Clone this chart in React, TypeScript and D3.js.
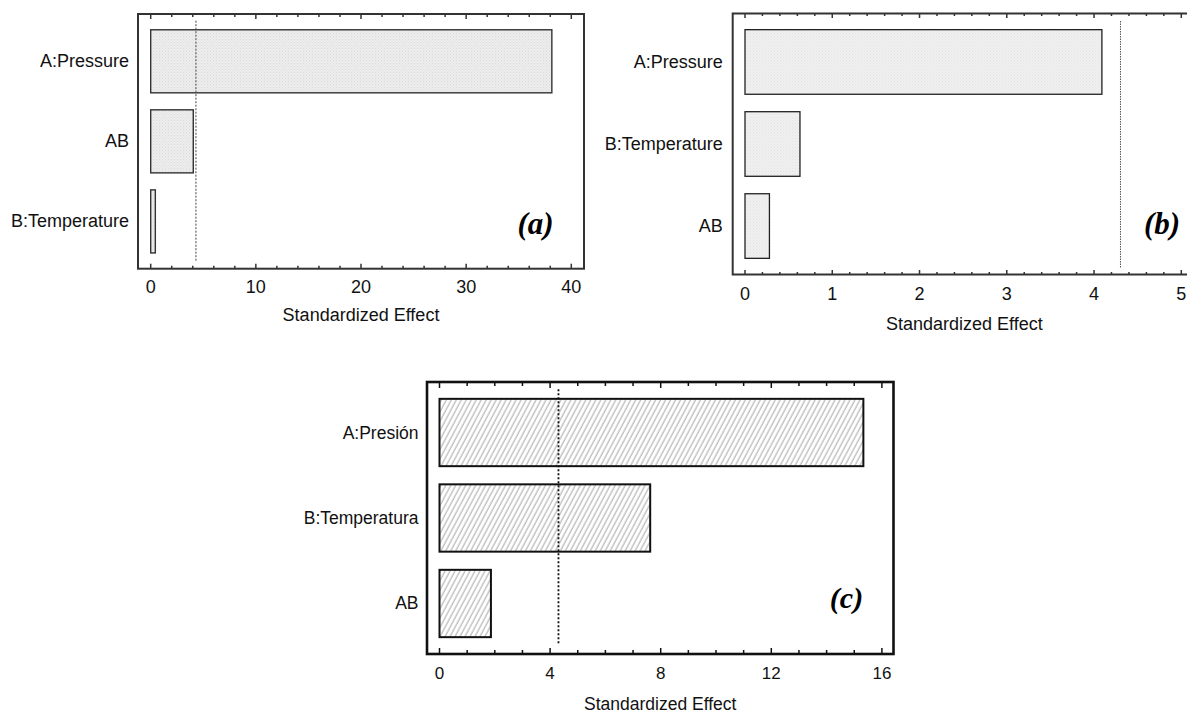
import React from "react";
import * as d3 from "d3";

// ---------- data ----------
const panelACategories = ["A:Pressure", "AB", "B:Temperature"];
const panelAValues = [38.15, 4.05, 0.44];
const panelATicks = [0, 10, 20, 30, 40];

const panelBCategories = ["A:Pressure", "B:Temperature", "AB"];
const panelBValues = [4.09, 0.63, 0.28];
const panelBTicks = [0, 1, 2, 3, 4, 5];

const panelCCategories = ["A:Presión", "B:Temperatura", "AB"];
const panelCValues = [15.33, 7.62, 1.86];
const panelCTicks = [0, 4, 8, 12, 16];

const criticalEffect = 4.303;
const axisTitle = "Standardized Effect";
const panelTags = ["(a)", "(b)", "(c)"];

const W = 1187;
const H = 713;
const FONT = "'Liberation Sans', Arial, sans-serif";

type PanelProps = {
  id: string;
  categories: string[];
  values: number[];
  ticks: number[];
  minorStep: number;
  tag: string;
  frame: { x0: number; x1: number; y0: number; y1: number };
  xRange: [number, number];
  fill: string;
  barStroke: string;
  barStrokeWidth: number;
  frameStroke: string;
  frameWidth: number;
  majorLen: number;
  minorLen: number;
  refStroke: string;
  refWidth: number;
  refDash: string;
  refY: [number, number];
  tickLabelDy: number;
  titleDy: number;
  tagPos: [number, number];
  fontSize: number;
  tickFontSize: number;
  labelGap: number;
  tagSize: number;
};

function Panel(p: PanelProps) {
  const dom = [p.ticks[0], p.ticks[p.ticks.length - 1]];
  const x = d3.scaleLinear().domain(dom).range(p.xRange);
  const y = d3
    .scaleBand<string>()
    .domain(p.categories)
    .range([p.frame.y0, p.frame.y1])
    .paddingInner(0.2125)
    .paddingOuter(0.197);
  const minor = d3.range(dom[0], dom[1] + p.minorStep / 2, p.minorStep);
  const isMajor = (v: number) => p.ticks.some((t) => Math.abs(t - v) < 1e-6);
  const { x0, x1, y0, y1 } = p.frame;
  return (
    <g>
      {p.categories.map((c, i) => (
        <rect
          key={c}
          x={x(0)}
          y={y(c)}
          width={x(p.values[i]) - x(0)}
          height={y.bandwidth()}
          fill={p.fill}
          stroke={p.barStroke}
          strokeWidth={p.barStrokeWidth}
        />
      ))}
      <line
        x1={x(criticalEffect)}
        x2={x(criticalEffect)}
        y1={p.refY[0]}
        y2={p.refY[1]}
        stroke={p.refStroke}
        strokeWidth={p.refWidth}
        strokeDasharray={p.refDash}
      />
      {minor.map((v) => {
        const L = isMajor(v) ? p.majorLen : p.minorLen;
        return (
          <g key={"t" + v}>
            <line x1={x(v)} x2={x(v)} y1={y1} y2={y1 - L} stroke={p.frameStroke} strokeWidth={1.5} />
            <line x1={x(v)} x2={x(v)} y1={y0} y2={y0 + L} stroke={p.frameStroke} strokeWidth={1.5} />
          </g>
        );
      })}
      <rect
        x={x0}
        y={y0}
        width={x1 - x0}
        height={y1 - y0}
        fill="none"
        stroke={p.frameStroke}
        strokeWidth={p.frameWidth}
      />
      {p.ticks.map((t) => (
        <text
          key={"l" + t}
          x={x(t)}
          y={y1 + p.tickLabelDy}
          textAnchor="middle"
          dominantBaseline="central"
          fontFamily={FONT}
          fontSize={p.tickFontSize}
          fill="#111"
        >
          {t}
        </text>
      ))}
      {p.categories.map((c) => (
        <text
          key={"c" + c}
          x={x0 - p.labelGap}
          y={(y(c) as number) + y.bandwidth() / 2}
          textAnchor="end"
          dominantBaseline="central"
          fontFamily={FONT}
          fontSize={p.fontSize}
          fill="#111"
        >
          {c}
        </text>
      ))}
      <text
        x={(x0 + Math.min(x1, W + 9)) / 2}
        y={y1 + p.titleDy}
        textAnchor="middle"
        dominantBaseline="central"
        fontFamily={FONT}
        fontSize={p.fontSize}
        fill="#111"
      >
        {axisTitle}
      </text>
      <text
        x={p.tagPos[0]}
        y={p.tagPos[1]}
        textAnchor="middle"
        dominantBaseline="central"
        fontFamily="'Liberation Serif', 'Times New Roman', serif"
        fontStyle="italic"
        fontWeight="bold"
        fontSize={p.tagSize}
        fill="#000"
      >
        {p.tag}
      </text>
    </g>
  );
}

export default function App() {
  return (
    <svg
      width={W}
      height={H}
      viewBox={`0 0 ${W} ${H}`}
      style={{ position: "absolute", left: 0, top: 0, background: "#fff" }}
    >
      <defs>
        <pattern id="stippleA" width="3" height="3" patternUnits="userSpaceOnUse">
          <rect width="3" height="3" fill="#ededed" />
          <rect x="0" y="0" width="1" height="1" fill="#dadada" />
          <rect x="1.5" y="1.5" width="1" height="1" fill="#e0e0e0" />
        </pattern>
        <pattern id="stippleB" width="3" height="3" patternUnits="userSpaceOnUse">
          <rect width="3" height="3" fill="#f0f0f0" />
          <rect x="0" y="0" width="1" height="1" fill="#e2e2e2" />
          <rect x="1.5" y="1.5" width="1" height="1" fill="#e6e6e6" />
        </pattern>
        <pattern
          id="hatchC"
          width="4.4"
          height="10"
          patternUnits="userSpaceOnUse"
          patternTransform="rotate(28)"
        >
          <rect width="4.4" height="10" fill="#fff" />
          <line x1="1" y1="0" x2="1" y2="10" stroke="#8a8a8a" strokeWidth="0.8" />
        </pattern>
      </defs>
      <rect width={W} height={H} fill="#fff" />
      <Panel
        id="a"
        categories={panelACategories}
        values={panelAValues}
        ticks={panelATicks}
        minorStep={2}
        tag={panelTags[0]}
        frame={{ x0: 138, x1: 584, y0: 14, y1: 268.7 }}
        xRange={[150.7, 571.3]}
        fill="url(#stippleA)"
        barStroke="#333"
        barStrokeWidth={1.4}
        frameStroke="#333"
        frameWidth={2}
        majorLen={5}
        minorLen={3}
        refStroke="#444"
        refWidth={1}
        refDash="2,1.5"
        refY={[20.7, 261.3]}
        tickLabelDy={18}
        titleDy={46.5}
        tagPos={[535.5, 223]}
        fontSize={18}
        tickFontSize={18}
        labelGap={9}
        tagSize={31}
      />
      <Panel
        id="b"
        categories={panelBCategories}
        values={panelBValues}
        ticks={panelBTicks}
        minorStep={0.2}
        tag={panelTags[1]}
        frame={{ x0: 732.7, x1: 1196, y0: 13.5, y1: 274.5 }}
        xRange={[745, 1181.3]}
        fill="url(#stippleB)"
        barStroke="#222"
        barStrokeWidth={1.3}
        frameStroke="#333"
        frameWidth={2}
        majorLen={4.5}
        minorLen={2.5}
        refStroke="#555"
        refWidth={1}
        refDash="1.5,1"
        refY={[21, 267.7]}
        tickLabelDy={19}
        titleDy={49}
        tagPos={[1162, 223]}
        fontSize={18}
        tickFontSize={18}
        labelGap={10}
        tagSize={31}
      />
      <Panel
        id="c"
        categories={panelCCategories}
        values={panelCValues}
        ticks={panelCTicks}
        minorStep={1}
        tag={panelTags[2]}
        frame={{ x0: 427, x1: 893.5, y0: 382, y1: 654 }}
        xRange={[439.5, 881.9]}
        fill="url(#hatchC)"
        barStroke="#111"
        barStrokeWidth={2}
        frameStroke="#111"
        frameWidth={2.6}
        majorLen={6}
        minorLen={4}
        refStroke="#111"
        refWidth={1.8}
        refDash="2,2"
        refY={[389.3, 645]}
        tickLabelDy={19.5}
        titleDy={49.5}
        tagPos={[846.5, 597]}
        fontSize={17.5}
        tickFontSize={17}
        labelGap={8.5}
        tagSize={30}
      />
    </svg>
  );
}
